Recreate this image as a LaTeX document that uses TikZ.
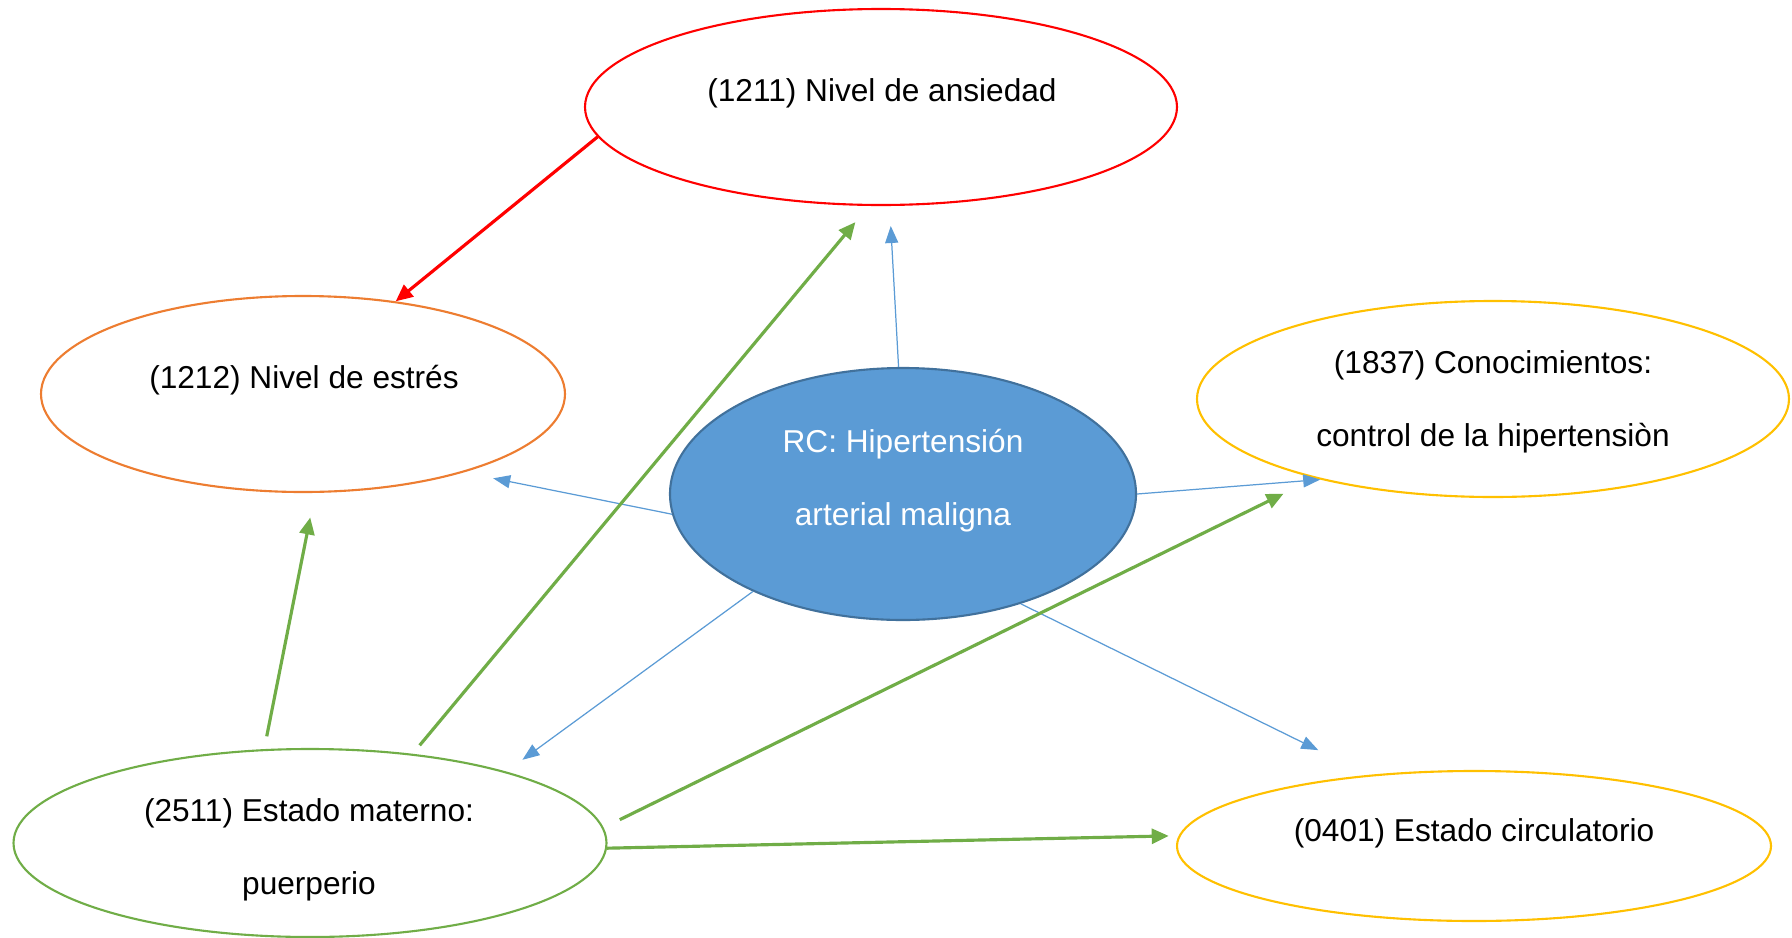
\documentclass[tikz,border=0pt]{standalone}
\usepackage{fontspec}
\setmainfont{Liberation Sans}
\usepackage{xcolor}
\usepackage{tikz}
\usetikzlibrary{positioning, shapes.geometric, arrows.meta}
\definecolor{rojo}{HTML}{FF0000}
\definecolor{naranja}{HTML}{ED7D31}
\definecolor{amarillo}{HTML}{FFC000}
\definecolor{verde}{HTML}{70AD47}
\definecolor{azul}{HTML}{5B9BD5}
\definecolor{azulborde}{HTML}{41719C}

\begin{document}
\begin{tikzpicture}[
    meta/.style={
        ellipse,
        line width=0.6pt,
        fill=white,
        inner sep=0pt,
    },
    central/.style={
        ellipse,
        draw=azulborde,
        line width=0.6pt,
        fill=azul,
        inner sep=0pt,
        minimum width=4.66cm,
        minimum height=2.52cm,
    },
    texto/.style={
        inner sep=0pt,
        align=center,
        font=\fontsize{9}{20.8}\selectfont,
    },
    flechaazul/.style={-{Triangle[length=1.7mm, width=1.3mm]}, line width=0.35pt, color=azul},
    flechaverde/.style={-{Triangle[length=1.7mm, width=1.5mm]}, line width=0.9pt, color=verde},
    flecharoja/.style={-{Triangle[length=1.7mm, width=1.5mm]}, line width=0.9pt, color=rojo},
]

\useasboundingbox (0,0) rectangle (17.92,9.37);

\node[meta, draw=rojo, minimum width=5.92cm, minimum height=1.96cm]     (anx) at (8.81, 8.30) {};
\node[meta, draw=naranja, minimum width=5.24cm, minimum height=1.96cm]  (est) at (3.03, 5.43) {};
\node[central]                                                          (rc)  at (9.03, 4.43) {};
\node[meta, draw=amarillo, minimum width=5.92cm, minimum height=1.96cm] (con) at (14.93, 5.38) {};
\node[meta, draw=verde, minimum width=5.93cm, minimum height=1.88cm]    (mat) at (3.10, 0.94) {};
\node[meta, draw=amarillo, minimum width=5.94cm, minimum height=1.50cm] (cir) at (14.74, 0.91) {};

\node[texto] (anx-txt) at (8.82, 8.435) {(1211) Nivel de ansiedad};
\node[texto] (est-txt) at (3.04, 5.565) {(1212) Nivel de estrés};
\node[texto, text=white] (rc-txt) at (9.03, 4.565) {RC: Hipertensión\\arterial maligna};
\node[texto] (con-txt) at (14.93, 5.355) {(1837) Conocimientos:\\control de la hipertensiòn};
\node[texto] (mat-txt) at (3.09, 0.875) {(2511) Estado materno:\\puerperio};
\node[texto] (cir-txt) at (14.74, 1.035) {(0401) Estado circulatorio};

\draw[flechaazul, shorten >=2mm]   (rc.92)  -- (anx.275);
\draw[flechaazul, shorten >=3mm]   (rc.185) -- (est.334);
\draw[flechaazul, shorten >=2mm]   (rc.213) -- (mat.20);
\draw[flechaazul]                  (rc.0)   -- (con.205);
\draw[flechaazul, shorten >=5.6mm] (rc.317) -- (cir.146);

\draw[flecharoja] (anx.186) -- (est.45);

\draw[flechaverde, shorten <=1.3mm, shorten >=2.5mm] (mat.116) -- (est.277);
\draw[flechaverde, shorten <=1.1mm, shorten >=2.1mm] (mat.41)  -- (anx.263);
\draw[flechaverde, shorten <=1.8mm, shorten >=3.5mm] (mat.3)   -- (con.204);
\draw[flechaverde, shorten >=1mm]                    (mat.359) -- (cir.178);

\end{tikzpicture}
\end{document}
